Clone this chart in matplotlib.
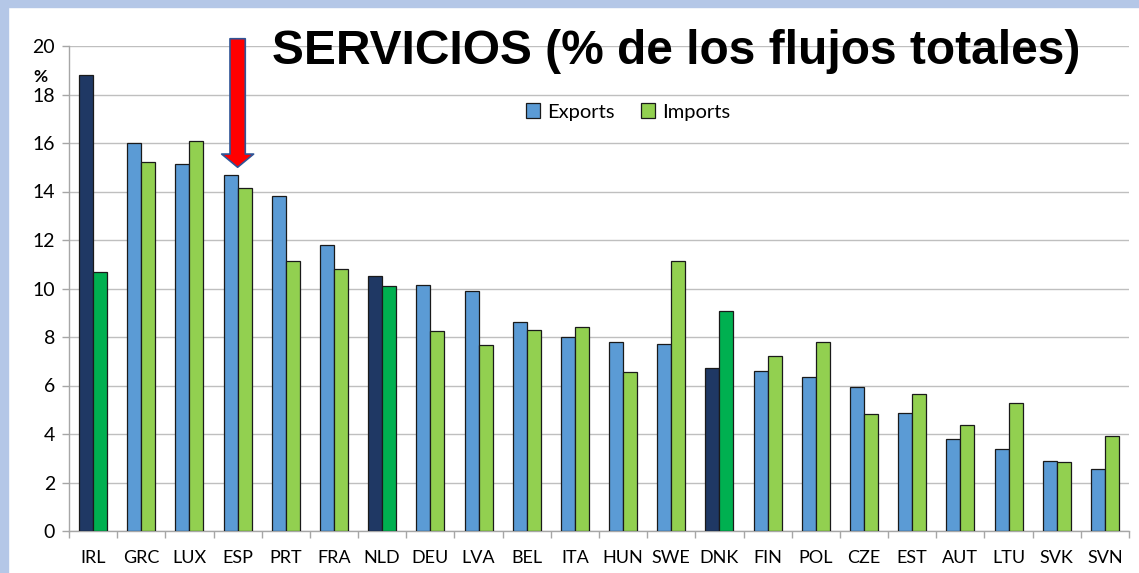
import numpy as np
import matplotlib.pyplot as plt
from matplotlib.patches import Rectangle

countries = ['IRL', 'GRC', 'LUX', 'ESP', 'PRT', 'FRA', 'NLD', 'DEU', 'LVA', 'BEL', 'ITA',
             'HUN', 'SWE', 'DNK', 'FIN', 'POL', 'CZE', 'EST', 'AUT', 'LTU', 'SVK', 'SVN']
exports = [18.8, 16.0, 15.15, 14.7, 13.8, 11.8, 10.5, 10.15, 9.9, 8.6, 8.0,
           7.78, 7.7, 6.72, 6.61, 6.35, 5.93, 4.85, 3.79, 3.37, 2.9, 2.56]
imports = [10.7, 15.2, 16.1, 14.15, 11.15, 10.8, 10.1, 8.25, 7.65, 8.3, 8.4,
           6.57, 11.15, 9.07, 7.2, 7.78, 4.81, 5.66, 4.38, 5.28, 2.85, 3.9]
highlight = ['IRL', 'NLD', 'DNK']

plt.rcParams['font.family'] = ['Lato', 'DejaVu Sans']

fig = plt.figure(figsize=(11.39, 5.73), dpi=100)
fig.patch.set_facecolor('white')
# light blue slide frame on top and left
fig.patches.append(Rectangle((0, 1 - 7 / 573), 1, 7 / 573, transform=fig.transFigure,
                             color='#B4C7E7', zorder=0))
fig.patches.append(Rectangle((0, 0), 8 / 1139, 1, transform=fig.transFigure,
                             color='#B4C7E7', zorder=0))

ax = fig.add_axes([69 / 1139, 42 / 573, 1060 / 1139, 485 / 573])

x = np.arange(len(countries))
w = 0.29
exp_colors = ['#1F3864' if c in highlight else '#5B9BD5' for c in countries]
imp_colors = ['#00B050' if c in highlight else '#92D050' for c in countries]
ax.bar(x - w / 2, exports, w, color=exp_colors, edgecolor='#1a1a1a', linewidth=0.9,
       label='Exports', zorder=3)
ax.bar(x + w / 2, imports, w, color=imp_colors, edgecolor='#1a1a1a', linewidth=0.9,
       label='Imports', zorder=3)

ax.set_xlim(-0.5, len(countries) - 0.5)
ax.set_ylim(0, 20)
ax.set_yticks(np.arange(0, 21, 2))
ax.set_xticks(x)
ax.set_xticklabels(countries)
ax.set_xticks(np.arange(-0.5, len(countries)), minor=True)
ax.tick_params(axis='x', which='major', length=0, pad=14, labelsize=13)
ax.tick_params(axis='x', which='minor', length=5, color='#A6A6A6', width=1)
ax.tick_params(axis='y', length=5, color='#A6A6A6', width=1, labelsize=14, pad=5)
ax.grid(axis='y', color='#BFBFBF', linewidth=1, zorder=0)
for s in ['top', 'right']:
    ax.spines[s].set_visible(False)
for s in ['left', 'bottom']:
    ax.spines[s].set_color('#A6A6A6')
    ax.spines[s].set_linewidth(1)

# legend: plain face colours for the handles
leg = ax.legend(loc='center', bbox_to_anchor=(628 / 1139, 1 - 112 / 573),
                bbox_transform=fig.transFigure, ncol=2, frameon=False,
                fontsize=14.5, handlelength=0.7, handleheight=0.7,
                handletextpad=0.35, columnspacing=1.3)
leg.legend_handles[0].set_facecolor('#5B9BD5')
leg.legend_handles[1].set_facecolor('#92D050')

fig.text(676 / 1139, 1 - 52 / 573, 'SERVICIOS (% de los flujos totales)',
         ha='center', va='center', fontsize=34.5, fontweight='bold',
         family='Liberation Sans')
fig.text(40 / 1139, 1 - 77 / 573, '%', ha='center', va='center',
         fontsize=12.5, fontweight='bold')

# red arrow pointing at Spain
ax.annotate('', xy=(3, 15.0), xytext=(3, 20.3), annotation_clip=False,
            arrowprops=dict(arrowstyle='simple,head_width=2.3,head_length=0.95,tail_width=1.1',
                            mutation_scale=10, fc='#FF0000', ec='#2F5597', lw=1.2,
                            shrinkA=0, shrinkB=0), zorder=5)

fig.savefig('out.png', dpi=100)
